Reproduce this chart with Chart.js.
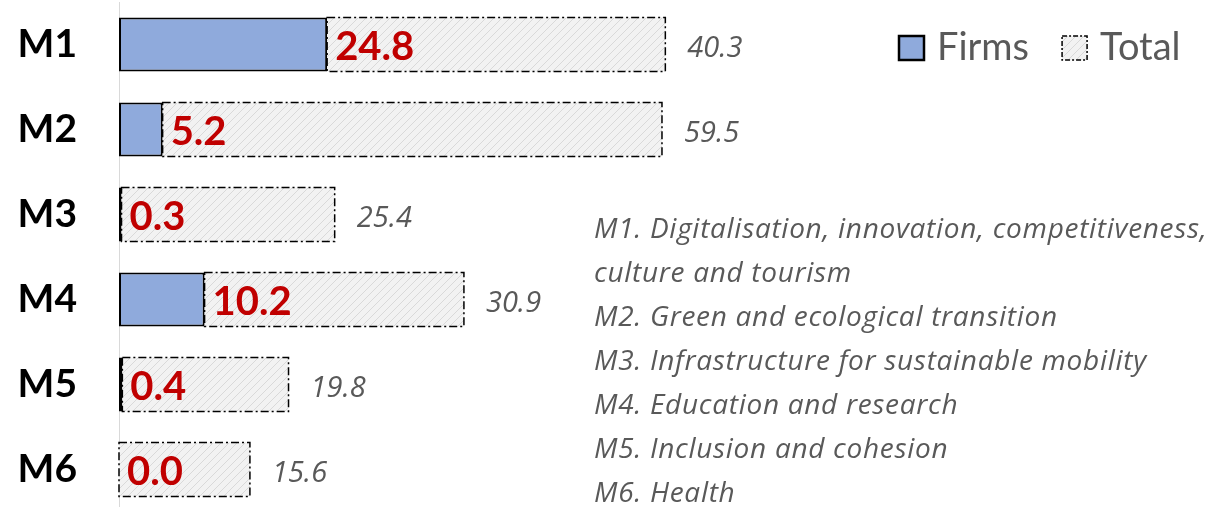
<!DOCTYPE html>
<html>
<head>
<meta charset="utf-8">
<script src="https://cdn.jsdelivr.net/npm/chart.js@4.4.1/dist/chart.umd.min.js"></script>
<style>
  html, body { margin: 0; padding: 0; background: #fff; overflow: hidden; }
  #wrap { position: relative; width: 1231px; height: 507px; overflow: hidden; }
  #notes { position: absolute; left: 594px; top: 205px; font: italic 28px "Open Sans", sans-serif; letter-spacing: 0.7px; line-height: 44px; color: #595959; white-space: nowrap; }
</style>
</head>
<body>
<div id="wrap">
  <canvas id="chart" width="1231" height="514" style="width:1231px;height:514px"></canvas>
  <div id="notes"></div>
</div>
<script>
const missions = ['M1', 'M2', 'M3', 'M4', 'M5', 'M6'];
const firms = [24.8, 5.2, 0.3, 10.2, 0.4, 0.0];
const total = [40.3, 59.5, 25.4, 30.9, 19.8, 15.6];
const notes = [
  'M1. Digitalisation, innovation, competitiveness,',
  'culture and tourism',
  'M2. Green and ecological transition',
  'M3. Infrastructure for sustainable mobility',
  'M4. Education and research',
  'M5. Inclusion and cohesion',
  'M6. Health'
];

document.getElementById('notes').innerHTML = notes.map(t => `<div>${t}</div>`).join('');

const ctx = document.getElementById('chart').getContext('2d');

// light grey diagonal hatch for the "Total" bars
function makeHatch() {
  const p = document.createElement('canvas');
  p.width = 8; p.height = 8;
  const g = p.getContext('2d');
  g.fillStyle = '#f2f2f2';
  g.fillRect(0, 0, 8, 8);
  g.strokeStyle = '#d9d9d9';
  g.lineWidth = 1;
  g.beginPath();
  g.moveTo(0, 8); g.lineTo(8, 0);
  g.moveTo(-1, 1); g.lineTo(1, -1);
  g.moveTo(7, 9); g.lineTo(9, 7);
  g.stroke();
  return ctx.createPattern(p, 'repeat');
}
const hatch = makeHatch();
const dashDot = [8, 3, 2, 3];

const labelPlugin = {
  id: 'barLabels',
  afterDatasetsDraw(chart) {
    const c = chart.ctx;
    const fm = chart.getDatasetMeta(0);
    const tm = chart.getDatasetMeta(1);
    c.save();
    // dash-dot outline of total bars
    c.setLineDash(dashDot);
    c.lineWidth = 1.5;
    c.strokeStyle = '#000';
    tm.data.forEach(bar => {
      c.strokeRect(bar.base, bar.y - bar.height / 2, bar.x - bar.base, bar.height);
    });
    c.setLineDash([]);
    // firms values, red bold
    c.font = 'bold 40px Lato';
    c.fillStyle = '#c00000';
    c.textBaseline = 'alphabetic';
    fm.data.forEach((bar, i) => {
      c.fillText(firms[i].toFixed(1), bar.x + 8, bar.y + 15);
    });
    // total values, grey italic
    c.font = 'italic 29px "Open Sans"';
    c.fillStyle = '#595959';
    tm.data.forEach((bar, i) => {
      c.fillText(total[i].toFixed(1), bar.x + 22, bar.y + 12);
    });
    c.restore();
  }
};

const legendPlugin = {
  id: 'topLegend',
  afterDraw(chart) {
    const c = chart.ctx;
    c.save();
    c.font = '38px Lato';
    c.textBaseline = 'alphabetic';
    let x = 899;
    chart.data.datasets.forEach((ds, i) => {
      c.fillStyle = ds.backgroundColor;
      c.fillRect(x, 36, 25, 24);
      c.strokeStyle = '#000';
      c.lineWidth = i === 0 ? 2.5 : 1.5;
      c.setLineDash(i === 0 ? [] : [5, 2, 2, 2]);
      c.strokeRect(x, 36, 25, 24);
      c.setLineDash([]);
      c.fillStyle = '#595959';
      c.fillText(ds.label, x + 38, 60);
      x += 38 + c.measureText(ds.label).width + 33;
    });
    c.restore();
  }
};

new Chart(ctx, {
  type: 'bar',
  data: {
    labels: missions,
    datasets: [
      {
        label: 'Firms',
        data: firms,
        backgroundColor: '#8faadc',
        borderColor: '#000',
        borderWidth: 2,
        borderSkipped: false,
        categoryPercentage: 0.635,
        barPercentage: 1
      },
      {
        label: 'Total',
        data: total,
        backgroundColor: hatch,
        borderWidth: 0,
        categoryPercentage: 0.635,
        barPercentage: 1
      }
    ]
  },
  options: {
    indexAxis: 'y',
    responsive: false,
    animation: false,
    layout: { padding: { top: 2, bottom: 2, left: 0, right: 21 } },
    plugins: {
      legend: { display: false },
      tooltip: { enabled: false }
    },
    scales: {
      x: {
        stacked: true,
        min: 0, max: 130,
        display: false
      },
      y: {
        stacked: true,
        // tick marks hidden, their length only pushes the labels left
        grid: { display: false, drawTicks: true, tickLength: 42 },
        border: { display: true, color: '#d9d9d9', width: 1 },
        ticks: { color: '#000', padding: 0, font: { family: 'Lato', size: 39, weight: 'bold', lineHeight: 0.1 } },
        afterFit: s => { s.width = 119; }
      }
    }
  },
  plugins: [labelPlugin, legendPlugin]
});
</script>
</body>
</html>
